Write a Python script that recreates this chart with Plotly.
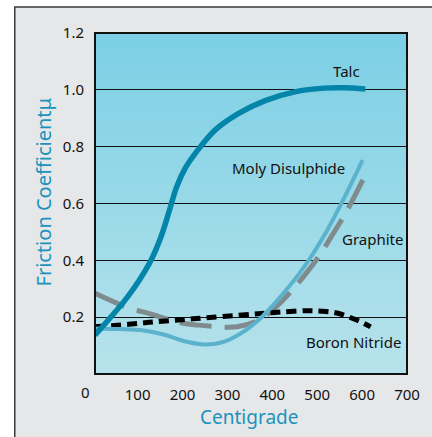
import plotly.graph_objects as go

# ---- data ----
talc_x = [5, 38, 75, 104, 130, 152, 171, 187, 207, 237, 273, 325, 384, 450, 515, 560, 607]
talc_y = [0.137, 0.196, 0.266, 0.331, 0.401, 0.483, 0.577, 0.659, 0.727, 0.794, 0.859, 0.917, 0.962, 0.993, 1.006, 1.007, 1.003]

moly_x = [5, 60, 110, 160, 205, 250, 295, 335, 376, 420, 470, 520, 560, 601]
moly_y = [0.16, 0.158, 0.154, 0.138, 0.115, 0.104, 0.115, 0.148, 0.20, 0.275, 0.375, 0.50, 0.62, 0.753]

graphite_x = [5, 82, 119, 196, 237, 321, 370, 420, 457, 502, 530, 568, 610]
graphite_y = [0.284, 0.231, 0.216, 0.18, 0.172, 0.166, 0.19, 0.254, 0.319, 0.41, 0.48, 0.58, 0.71]

boron_x = [5, 80, 141, 200, 251, 320, 376, 420, 479, 520, 548, 575, 598, 619]
boron_y = [0.166, 0.175, 0.184, 0.191, 0.198, 0.206, 0.213, 0.218, 0.223, 0.22, 0.213, 0.198, 0.183, 0.166]

y_ticks = [0.2, 0.4, 0.6, 0.8, 1.0, 1.2]
y_tick_text = ["0.2", "0.4", "0.6", "0.8", "1.0", "1.2"]
x_ticks = [100, 200, 300, 400, 500, 600, 700]
x_tick_text = ["100", "200", "300", "400", "500", "600", "700"]

labels = ["Talc", "Moly Disulphide", "Graphite", "Boron Nitride"]
label_x = [565, 437, 623, 581]
label_y = [1.066, 0.725, 0.475, 0.113]

FONT = "Noto Sans"
TITLE_COLOR = "#1b93bd"

fig = go.Figure()

fig.add_trace(go.Scatter(x=graphite_x, y=graphite_y, mode="lines", line_shape="spline",
                         line=dict(color="#7f8b8d", width=5, dash="32px,13px"), name="Graphite"))
fig.add_trace(go.Scatter(x=boron_x, y=boron_y, mode="lines", line_shape="spline",
                         line=dict(color="black", width=5, dash="10px,6px"), name="Boron Nitride"))
fig.add_trace(go.Scatter(x=moly_x, y=moly_y, mode="lines", line_shape="spline",
                         line=dict(color="#5bb2cc", width=4), name="Moly Disulphide"))
fig.add_trace(go.Scatter(x=talc_x, y=talc_y, mode="lines", line_shape="spline",
                         line=dict(color="#0385aa", width=5.5), name="Talc"))

shapes = []
# outer frame
shapes.append(dict(type="rect", xref="paper", yref="paper",
                   x0=(14 - 95) / 315, x1=(440 - 95) / 315,
                   y0=(374 - 445) / 341, y1=(374 - 7) / 341,
                   fillcolor="#e6e7e8", line=dict(color="#3a3a3a", width=1.5), layer="below"))
# gradient plot background
n = 40
top = (124, 207, 229)
bot = (182, 227, 235)
for i in range(n):
    t = i / (n - 1)
    c = tuple(round(bot[k] + (top[k] - bot[k]) * t) for k in range(3))
    shapes.append(dict(type="rect", xref="paper", yref="paper",
                       x0=0, x1=1, y0=i / n, y1=(i + 1) / n + 0.002,
                       fillcolor="rgb(%d,%d,%d)" % c, line=dict(width=0), layer="below"))
# plot border
shapes.append(dict(type="rect", xref="paper", yref="paper", x0=0, x1=1, y0=0, y1=1,
                   line=dict(color="#111", width=2), layer="above"))

annotations = []
for t, x, y in zip(labels, label_x, label_y):
    annotations.append(dict(x=x, y=y, xref="x", yref="y", text=t, showarrow=False,
                            xanchor="center", yanchor="middle",
                            font=dict(family=FONT, size=15, color="#111")))
annotations.append(dict(x=(42 - 95) / 315, y=(374 - 192) / 341, xref="paper", yref="paper",
                        text="Friction Coefficientμ", textangle=-90, showarrow=False,
                        xanchor="center", yanchor="middle",
                        font=dict(family=FONT, size=20, color=TITLE_COLOR)))
annotations.append(dict(x=(250 - 95) / 315, y=(374 - 417) / 341, xref="paper", yref="paper",
                        text="Centigrade", showarrow=False,
                        xanchor="center", yanchor="middle",
                        font=dict(family=FONT, size=19, color=TITLE_COLOR)))
annotations.append(dict(x=(85 - 95) / 315, y=(374 - 392) / 341, xref="paper", yref="paper",
                        text="0", showarrow=False, xanchor="center", yanchor="middle",
                        font=dict(family=FONT, size=15, color="#111")))

fig.update_layout(
    width=432, height=437,
    margin=dict(l=95, r=22, t=33, b=63),
    paper_bgcolor="white", plot_bgcolor="rgba(0,0,0,0)",
    showlegend=False,
    shapes=shapes, annotations=annotations,
    font=dict(family=FONT, size=15, color="#111"),
)
fig.update_xaxes(range=[5, 700], tickvals=x_ticks, ticktext=x_tick_text, showgrid=False,
                 zeroline=False, ticks="outside", ticklen=7, tickcolor="rgba(0,0,0,0)",
                 showline=False, fixedrange=True)
fig.update_yaxes(range=[0, 1.2], tickvals=y_ticks, ticktext=y_tick_text, showgrid=True,
                 gridcolor="#111", gridwidth=1.3, zeroline=False, ticks="outside", ticklen=7,
                 tickcolor="rgba(0,0,0,0)", showline=False, fixedrange=True)

fig.write_html("out.html", config={"displayModeBar": False},
               post_script="document.body.style.margin='0';document.body.style.overflow='hidden';")
